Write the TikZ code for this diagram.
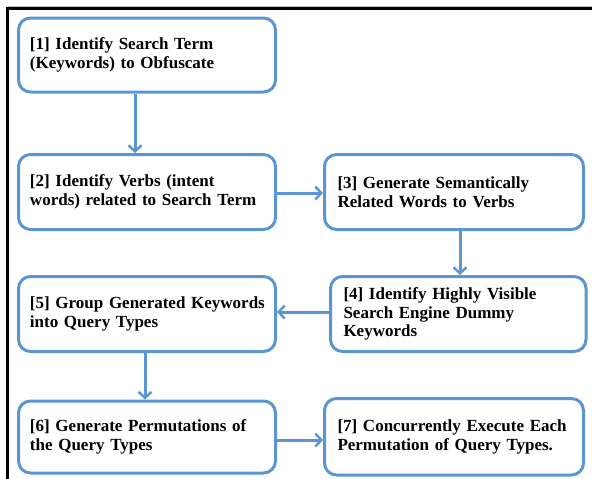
\documentclass[tikz,border=0pt]{standalone}
\usepackage{fontspec}
\setmainfont{Liberation Serif}
\usetikzlibrary{arrows.meta,calc}
\definecolor{boxblue}{RGB}{91,150,210}
\tikzset{
  stepbox/.style={draw=boxblue, line width=3pt, rounded corners=12pt, fill=white,
    inner xsep=11.5pt, inner ysep=0pt, align=left, anchor=center,
    font=\fontsize{17}{18.8}\selectfont\bfseries},
  arr/.style={draw=boxblue, line width=3pt, -{Straight Barb[length=6pt,width=13pt,line width=2.5pt]}},
  frame/.style={line width=2.5pt, draw=black}
}
\begin{document}
\begin{tikzpicture}[x=1pt,y=-1pt]
\useasboundingbox (0,0) rectangle (592,479);
\draw[draw=gray!50, line width=1pt] (8,6.5) -- (592,6.5);
\draw[frame] (7.5,479) -- (7.5,8.5) -- (592,8.5);
\node[stepbox, text width=234pt, minimum height=74pt] (b1) at (147,55)
  {[1] Identify Search Term\\(Keywords) to Obfuscate};
\node[stepbox, text width=234pt, minimum height=75pt] (b2) at (147,192)
  {[2] Identify Verbs (intent\\words) related to Search Term};
\node[stepbox, text width=233pt, minimum height=75pt, inner xsep=13pt] (b3) at (454,192)
  {[3] Generate Semantically\\Related Words to Verbs};
\node[stepbox, text width=229.5pt, minimum height=75pt, inner xsep=13pt] (b4) at (458.25,314)
  {[4] Identify Highly Visible\\Search Engine Dummy\\Keywords};
\node[stepbox, text width=234pt, minimum height=75pt] (b5) at (147,314)
  {\mbox{[5] Group Generated Keywords}\\into Query Types};
\node[stepbox, text width=234pt, minimum height=72pt] (b6) at (147,437)
  {[6] Generate Permutations of\\the Query Types};
\node[stepbox, text width=233pt, minimum height=76.5pt, inner xsep=13pt] (b7) at (454,436.75)
  {[7] Concurrently Execute Each\\Permutation of Query Types.};
\draw[arr] ($(b1.south)+(-12,0)$) -- ($(b2.north)+(-12,0)$);
\draw[arr] ($(b2.east)+(0,1)$) -- ($(b3.west)+(0,1)$);
\draw[arr] ($(b3.south)+(6,0)$) -- ($(b4.north)+(1.75,0)$);
\draw[arr] ($(b4.west)+(0,-2)$) -- ($(b5.east)+(0,-2)$);
\draw[arr] ($(b5.south)+(-2,0)$) -- ($(b6.north)+(-2,0)$);
\draw[arr] ($(b6.east)+(0,3)$) -- ($(b7.west)+(0,3.25)$);
\end{tikzpicture}
\end{document}
